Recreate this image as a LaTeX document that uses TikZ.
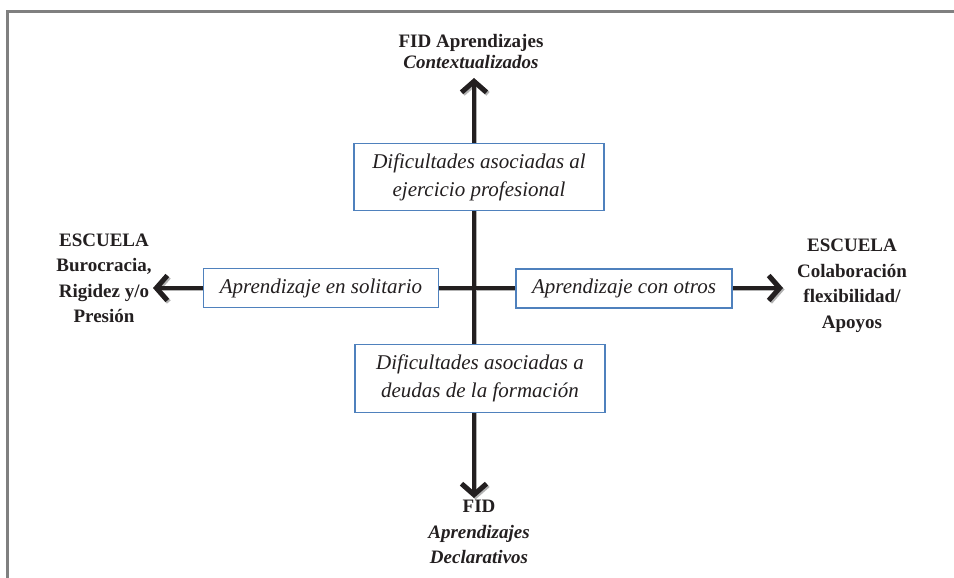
\documentclass[tikz,border=0pt]{standalone}
\usepackage{fontspec}
\setmainfont{Liberation Serif}
\usetikzlibrary{arrows.meta}
\usetikzlibrary{calc}

\definecolor{tinta}{HTML}{231F20}
\definecolor{bordecaja}{HTML}{4F81BD}
\definecolor{marco}{HTML}{808080}

\begin{document}
\begin{tikzpicture}[x=1pt,y=-1pt,
    caja/.style={draw=bordecaja, line width=1.2pt, fill=white, inner xsep=16pt, inner ysep=10pt,
      font=\fontsize{21}{28}\selectfont\itshape, align=center, text=tinta},
    cajaancha/.style={caja, minimum width=250pt},
    etiqueta/.style={font=\fontsize{19}{25.5}\selectfont\bfseries, align=center, inner sep=0pt, text=tinta},
    eje/.style={draw=tinta, line width=3.6pt, -{Straight Barb[length=11pt,width=25pt,line width=5pt]}},
    sombra/.style={eje, draw=black!30, transform canvas={shift={(1.5pt,-1.5pt)}}}]
    \useasboundingbox (0,0) rectangle (954,578);

    % Marco gris (solo arriba e izquierda)
    \draw[marco, line width=2.7pt] (7.3,578) -- (7.3,11.3) -- (954,11.3);

    % Centro de los ejes y puntas de las flechas
    \coordinate (O) at (474,288);
    \coordinate (arriba) at (474,78);
    \coordinate (abajo) at (474,498);
    \coordinate (izq) at (153,288);
    \coordinate (der) at (783,288);

    % Ejes (con sombra gris)
    \foreach \p in {arriba,abajo,izq,der}
      \draw[sombra] (O) -- (\p);
    \foreach \p in {arriba,abajo,izq,der}
      \draw[eje] (O) -- (\p);

    % Cajas
    \node[cajaancha] (difprof) at (479,177) {Dificultades asociadas al\\ejercicio profesional};
    \node[cajaancha] (difform) at (480,378.5) {Dificultades asociadas a\\deudas de la formación};
    \node[caja] (solo) at (321,288) {Aprendizaje en solitario};
    \node[caja] (otros) at (624,288.5) {Aprendizaje con otros};

    % Etiquetas de los extremos
    \node[etiqueta, font=\fontsize{19}{21}\selectfont\bfseries] (fidcont) at (471,52)
      {FID Aprendizajes\\\textit{Contextualizados}};
    \node[etiqueta] (fiddecl) at (479,532) {FID\\\textit{Aprendizajes}\\\textit{Declarativos}};
    \node[etiqueta] (escburo) at (104,278.5) {ESCUELA\\Burocracia,\\Rigidez y/o\\Presión};
    \node[etiqueta] (esccola) at (852,286) {ESCUELA\\Colaboración\\flexibilidad/\\Apoyos};
\end{tikzpicture}
\end{document}
